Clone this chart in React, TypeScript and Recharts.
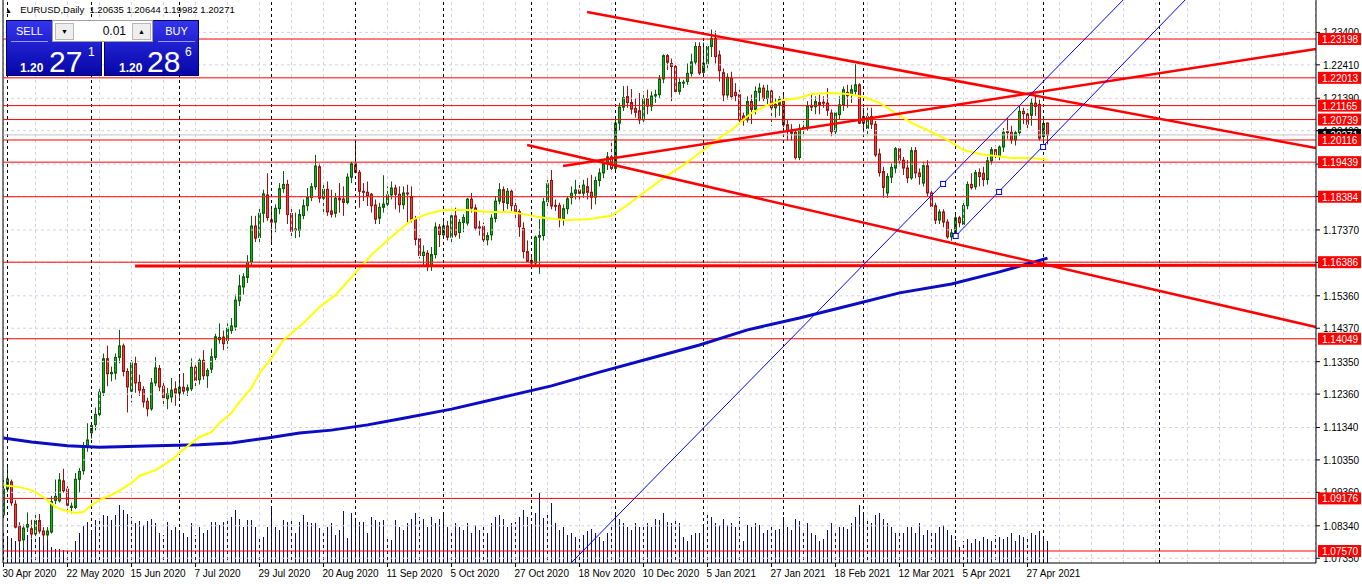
import React from "react";
import {
  ComposedChart,
  Bar,
  Line,
  XAxis,
  YAxis,
  ReferenceLine,
  ReferenceDot,
} from "recharts";

// EURUSD daily, 30 Apr 2020 .. 4 May 2021 (one bar per trading day)
const dateLabels = [
  "30 Apr 2020", "22 May 2020", "15 Jun 2020", "7 Jul 2020", "29 Jul 2020",
  "20 Aug 2020", "11 Sep 2020", "5 Oct 2020", "27 Oct 2020", "18 Nov 2020",
  "10 Dec 2020", "5 Jan 2021", "27 Jan 2021", "18 Feb 2021", "12 Mar 2021",
  "5 Apr 2021", "27 Apr 2021",
];

const opens = [
  1.0867, 1.0946, 1.0968, 1.0900, 1.0833, 1.0791, 1.0830, 1.0825, 1.0809, 1.0850,
  1.0818, 1.0806, 1.0815, 1.0911, 1.0910, 1.0971, 1.0946, 1.0890, 1.0890, 1.0976,
  1.1002, 1.1073, 1.1118, 1.1143, 1.1174, 1.1241, 1.1344, 1.1298, 1.1300, 1.1348,
  1.1383, 1.1305, 1.1245, 1.1329, 1.1272, 1.1250, 1.1214, 1.1191, 1.1270, 1.1314,
  1.1260, 1.1222, 1.1227, 1.1252, 1.1239, 1.1257, 1.1248, 1.1252, 1.1318, 1.1280,
  1.1339, 1.1292, 1.1312, 1.1348, 1.1402, 1.1410, 1.1400, 1.1430, 1.1441, 1.1521,
  1.1563, 1.1592, 1.1640, 1.1749, 1.1714, 1.1788, 1.1844, 1.1768, 1.1761, 1.1802,
  1.1863, 1.1876, 1.1787, 1.1738, 1.1736, 1.1781, 1.1811, 1.1836, 1.1869, 1.1930,
  1.1834, 1.1861, 1.1795, 1.1788, 1.1834, 1.1831, 1.1821, 1.1898, 1.1939, 1.1913,
  1.1855, 1.1852, 1.1846, 1.1813, 1.1773, 1.1806, 1.1816, 1.1844, 1.1865, 1.1846,
  1.1814, 1.1850, 1.1839, 1.1769, 1.1710, 1.1659, 1.1666, 1.1627, 1.1662, 1.1746,
  1.1722, 1.1749, 1.1715, 1.1780, 1.1729, 1.1760, 1.1758, 1.1831, 1.1804, 1.1746,
  1.1748, 1.1707, 1.1722, 1.1772, 1.1825, 1.1860, 1.1818, 1.1855, 1.1811, 1.1793,
  1.1742, 1.1671, 1.1644, 1.1636, 1.1715, 1.1720, 1.1823, 1.1888, 1.1812, 1.1812,
  1.1771, 1.1802, 1.1836, 1.1849, 1.1859, 1.1849, 1.1869, 1.1852, 1.1837, 1.1888,
  1.1911, 1.1939, 1.1960, 1.1925, 1.2063, 1.2112, 1.2144, 1.2126, 1.2108, 1.2101,
  1.2073, 1.2138, 1.2115, 1.2146, 1.2150, 1.2198, 1.2269, 1.2245, 1.2236, 1.2160,
  1.2187, 1.2190, 1.2215, 1.2250, 1.2297, 1.2218, 1.2244, 1.2297, 1.2322, 1.2271,
  1.2217, 1.2149, 1.2200, 1.2157, 1.2150, 1.2085, 1.2073, 1.2129, 1.2105, 1.2157,
  1.2170, 1.2138, 1.2161, 1.2110, 1.2120, 1.2130, 1.2058, 1.2040, 1.2035, 1.1958,
  1.2047, 1.2050, 1.2115, 1.2113, 1.2126, 1.2127, 1.2124, 1.2094, 1.2037, 1.2089,
  1.2119, 1.2157, 1.2150, 1.2160, 1.2180, 1.2083, 1.2047, 1.2083, 1.2060, 1.1969,
  1.1915, 1.1850, 1.1898, 1.1926, 1.1985, 1.1950, 1.1926, 1.1896, 1.1979, 1.1911,
  1.1880, 1.1933, 1.1850, 1.1811, 1.1767, 1.1792, 1.1761, 1.1716, 1.1728, 1.1774,
  1.1754, 1.1811, 1.1876, 1.1869, 1.1912, 1.1910, 1.1891, 1.1948, 1.1982, 1.1961,
  1.1990, 1.2037, 1.2035, 1.2012, 1.2034, 1.2099, 1.2091, 1.2087, 1.2124, 1.2120,
  1.2022, 1.20635,
];

const highs = [
  1.0974, 1.1019, 1.0975, 1.0912, 1.0845, 1.0838, 1.0875, 1.0852, 1.0868, 1.0870,
  1.0830, 1.0830, 1.0925, 1.0975, 1.0995, 1.1008, 1.0955, 1.0905, 1.0995, 1.1010,
  1.1090, 1.1147, 1.1150, 1.1195, 1.1255, 1.1360, 1.1384, 1.1320, 1.1360, 1.1432,
  1.1390, 1.1315, 1.1340, 1.1350, 1.1295, 1.1260, 1.1225, 1.1285, 1.1349, 1.1325,
  1.1270, 1.1255, 1.1285, 1.1275, 1.1290, 1.1300, 1.1265, 1.1345, 1.1330, 1.1345,
  1.1370, 1.1315, 1.1375, 1.1420, 1.1452, 1.1430, 1.1452, 1.1468, 1.1540, 1.1600,
  1.1605, 1.1660, 1.1780, 1.1780, 1.1805, 1.1860, 1.1910, 1.1808, 1.1815, 1.1880,
  1.1917, 1.1890, 1.1805, 1.1790, 1.1800, 1.1830, 1.1865, 1.1880, 1.1966, 1.1940,
  1.1880, 1.1885, 1.1860, 1.1850, 1.1880, 1.1870, 1.1910, 1.1945, 1.2011, 1.1920,
  1.1880, 1.1885, 1.1850, 1.1830, 1.1820, 1.1904, 1.1870, 1.1885, 1.1875, 1.1870,
  1.1870, 1.1875, 1.1870, 1.1780, 1.1720, 1.1690, 1.1675, 1.1685, 1.1760, 1.1755,
  1.1770, 1.1765, 1.1790, 1.1805, 1.1770, 1.1785, 1.1835, 1.1850, 1.1815, 1.1765,
  1.1760, 1.1730, 1.1785, 1.1840, 1.1880, 1.1870, 1.1865, 1.1860, 1.1830, 1.1800,
  1.1760, 1.1705, 1.1660, 1.1720, 1.1770, 1.1835, 1.1890, 1.1920, 1.1830, 1.1820,
  1.1815, 1.1840, 1.1870, 1.1890, 1.1880, 1.1890, 1.1895, 1.1905, 1.1900, 1.1925,
  1.1945, 1.1975, 1.2004, 1.2077, 1.2125, 1.2176, 1.2177, 1.2167, 1.2140, 1.2155,
  1.2160, 1.2165, 1.2160, 1.2165, 1.2210, 1.2273, 1.2274, 1.2260, 1.2250, 1.2200,
  1.2195, 1.2245, 1.2275, 1.2310, 1.2310, 1.2309, 1.2305, 1.2349, 1.2345, 1.2285,
  1.2230, 1.2215, 1.2220, 1.2185, 1.2165, 1.2095, 1.2145, 1.2150, 1.2175, 1.2185,
  1.2180, 1.2180, 1.2165, 1.2140, 1.2145, 1.2150, 1.2075, 1.2060, 1.2045, 1.2060,
  1.2070, 1.2130, 1.2150, 1.2145, 1.2150, 1.2145, 1.2170, 1.2105, 1.2095, 1.2145,
  1.2175, 1.2180, 1.2180, 1.2243, 1.2185, 1.2110, 1.2110, 1.2110, 1.2070, 1.1985,
  1.1930, 1.1910, 1.1940, 1.1990, 1.1990, 1.1960, 1.1950, 1.1990, 1.1990, 1.1925,
  1.1945, 1.1950, 1.1860, 1.1820, 1.1800, 1.1800, 1.1770, 1.1740, 1.1790, 1.1780,
  1.1820, 1.1885, 1.1910, 1.1920, 1.1925, 1.1930, 1.1960, 1.1990, 1.1995, 1.1995,
  1.2048, 1.2079, 1.2055, 1.2040, 1.2115, 1.2110, 1.2105, 1.2140, 1.2150, 1.2135,
  1.2075, 1.20644,
];

const lows = [
  1.0855, 1.0935, 1.0895, 1.0826, 1.0782, 1.0766, 1.0815, 1.0795, 1.0798, 1.0810,
  1.0774, 1.0790, 1.0810, 1.0900, 1.0905, 1.0935, 1.0870, 1.0872, 1.0885, 1.0935,
  1.0990, 1.1060, 1.1100, 1.1125, 1.1160, 1.1230, 1.1260, 1.1275, 1.1280, 1.1330,
  1.1290, 1.1180, 1.1210, 1.1240, 1.1230, 1.1195, 1.1168, 1.1185, 1.1260, 1.1245,
  1.1200, 1.1190, 1.1210, 1.1200, 1.1225, 1.1235, 1.1230, 1.1245, 1.1260, 1.1265,
  1.1280, 1.1255, 1.1300, 1.1340, 1.1390, 1.1370, 1.1375, 1.1420, 1.1430, 1.1505,
  1.1540, 1.1575, 1.1625, 1.1700, 1.1700, 1.1760, 1.1765, 1.1695, 1.1730, 1.1785,
  1.1850, 1.1755, 1.1710, 1.1712, 1.1715, 1.1770, 1.1795, 1.1825, 1.1860, 1.1820,
  1.1790, 1.1780, 1.1775, 1.1775, 1.1790, 1.1780, 1.1815, 1.1880, 1.1910, 1.1805,
  1.1825, 1.1810, 1.1790, 1.1755, 1.1755, 1.1790, 1.1800, 1.1830, 1.1800, 1.1790,
  1.1800, 1.1760, 1.1760, 1.1690, 1.1650, 1.1625, 1.1611, 1.1612, 1.1650, 1.1685,
  1.1715, 1.1705, 1.1695, 1.1715, 1.1710, 1.1730, 1.1750, 1.1790, 1.1735, 1.1720,
  1.1690, 1.1690, 1.1705, 1.1760, 1.1815, 1.1795, 1.1800, 1.1790, 1.1770, 1.1716,
  1.1650, 1.1640, 1.1622, 1.1630, 1.1603, 1.1705, 1.1810, 1.1800, 1.1795, 1.1745,
  1.1750, 1.1785, 1.1815, 1.1830, 1.1830, 1.1835, 1.1830, 1.1800, 1.1815, 1.1870,
  1.1895, 1.1920, 1.1920, 1.1920, 1.2040, 1.2100, 1.2110, 1.2090, 1.2080, 1.2060,
  1.2060, 1.2090, 1.2100, 1.2125, 1.2140, 1.2185, 1.2225, 1.2130, 1.2150, 1.2150,
  1.2170, 1.2180, 1.2205, 1.2240, 1.2210, 1.2205, 1.2225, 1.2265, 1.2245, 1.2190,
  1.2130, 1.2135, 1.2135, 1.2130, 1.2060, 1.2055, 1.2065, 1.2060, 1.2090, 1.2130,
  1.2130, 1.2120, 1.2055, 1.2080, 1.2085, 1.2050, 1.2010, 1.2010, 1.1952, 1.1950,
  1.2020, 1.2040, 1.2100, 1.2090, 1.2090, 1.2110, 1.2085, 1.2023, 1.2020, 1.2075,
  1.2100, 1.2110, 1.2125, 1.2150, 1.2060, 1.2035, 1.2030, 1.2045, 1.1960, 1.1900,
  1.1835, 1.1835, 1.1880, 1.1910, 1.1935, 1.1905, 1.1880, 1.1890, 1.1895, 1.1875,
  1.1870, 1.1840, 1.1800, 1.1755, 1.1755, 1.1745, 1.1710, 1.1704, 1.1715, 1.1745,
  1.1745, 1.1800, 1.1860, 1.1860, 1.1870, 1.1870, 1.1875, 1.1935, 1.1955, 1.1950,
  1.1975, 1.2015, 1.2000, 1.1995, 1.2025, 1.2060, 1.2045, 1.2055, 1.2085, 1.2010,
  1.2000, 1.19982,
];

const closes = [
  1.0946, 1.0977, 1.0904, 1.0830, 1.0788, 1.0827, 1.0838, 1.0809, 1.0850, 1.0818,
  1.0806, 1.0818, 1.0908, 1.0924, 1.0974, 1.0941, 1.0897, 1.0894, 1.0976, 1.1000,
  1.1073, 1.1096, 1.1140, 1.1174, 1.1242, 1.1344, 1.1298, 1.1302, 1.1348, 1.1383,
  1.1305, 1.1258, 1.1331, 1.1270, 1.1248, 1.1212, 1.1191, 1.1270, 1.1316, 1.1258,
  1.1225, 1.1237, 1.1248, 1.1239, 1.1257, 1.1245, 1.1255, 1.1318, 1.1278, 1.1339,
  1.1292, 1.1308, 1.1350, 1.1411, 1.1409, 1.1390, 1.1437, 1.1444, 1.1523, 1.1566,
  1.1594, 1.1638, 1.1749, 1.1712, 1.1788, 1.1847, 1.1775, 1.1761, 1.1803, 1.1863,
  1.1876, 1.1784, 1.1733, 1.1740, 1.1784, 1.1811, 1.1836, 1.1869, 1.1932, 1.1834,
  1.1861, 1.1792, 1.1785, 1.1834, 1.1829, 1.1821, 1.1898, 1.1939, 1.1913, 1.1855,
  1.1852, 1.1841, 1.1811, 1.1770, 1.1806, 1.1816, 1.1844, 1.1865, 1.1846, 1.1814,
  1.1850, 1.1848, 1.1769, 1.1708, 1.1659, 1.1669, 1.1627, 1.1662, 1.1746, 1.1723,
  1.1749, 1.1715, 1.1780, 1.1722, 1.1760, 1.1775, 1.1831, 1.1804, 1.1743, 1.1744,
  1.1707, 1.1720, 1.1773, 1.1825, 1.1860, 1.1821, 1.1855, 1.1811, 1.1793, 1.1747,
  1.1671, 1.1641, 1.1636, 1.1715, 1.1720, 1.1823, 1.1878, 1.1810, 1.1810, 1.1771,
  1.1802, 1.1832, 1.1849, 1.1859, 1.1849, 1.1874, 1.1852, 1.1837, 1.1888, 1.1911,
  1.1939, 1.1960, 1.1925, 1.2063, 1.2112, 1.2141, 1.2126, 1.2106, 1.2096, 1.2073,
  1.2137, 1.2115, 1.2146, 1.2150, 1.2198, 1.2269, 1.2249, 1.2236, 1.2160, 1.2187,
  1.2188, 1.2215, 1.2250, 1.2297, 1.2216, 1.2246, 1.2297, 1.2322, 1.2266, 1.2223,
  1.2149, 1.2203, 1.2144, 1.2147, 1.2073, 1.2073, 1.2129, 1.2105, 1.2160, 1.2170,
  1.2138, 1.2161, 1.2110, 1.2120, 1.2136, 1.2058, 1.2040, 1.2032, 1.1958, 1.2047,
  1.2050, 1.2115, 1.2113, 1.2129, 1.2117, 1.2125, 1.2102, 1.2037, 1.2094, 1.2119,
  1.2165, 1.2147, 1.2165, 1.2180, 1.2063, 1.2063, 1.2083, 1.2060, 1.1966, 1.1912,
  1.1867, 1.1900, 1.1928, 1.1985, 1.1950, 1.1926, 1.1896, 1.1979, 1.1911, 1.1900,
  1.1933, 1.1850, 1.1809, 1.1767, 1.1792, 1.1761, 1.1716, 1.1728, 1.1774, 1.1759,
  1.1811, 1.1876, 1.1866, 1.1912, 1.1900, 1.1891, 1.1948, 1.1982, 1.1963, 1.1990,
  1.2035, 1.2034, 1.2012, 1.2034, 1.2099, 1.2092, 1.2060, 1.2124, 1.2114, 1.2017,
  1.2062, 1.20271,
];

// tick volume, relative units
const volumes = [
  30, 26, 25, 22, 34, 28, 28, 24, 32, 26,
  20, 27, 16, 14, 14, 13, 13, 11, 22, 30,
  37, 41, 33, 43, 45, 48, 47, 43, 48, 58,
  53, 49, 46, 40, 42, 38, 42, 44, 40, 30,
  28, 41, 33, 36, 33, 30, 26, 40, 28, 36,
  30, 33, 41, 41, 38, 41, 43, 46, 53, 44,
  36, 43, 43, 36, 26, 26, 36, 54, 36, 33,
  43, 41, 43, 30, 41, 48, 41, 40, 40, 35,
  30, 36, 40, 28, 33, 52, 25, 50, 44, 41,
  41, 30, 46, 43, 41, 43, 26, 23, 43, 36,
  33, 40, 44, 50, 46, 44, 36, 46, 40, 44,
  50, 36, 33, 40, 36, 33, 40, 30, 38, 33,
  36, 30, 40, 46, 48, 44, 36, 40, 41, 46,
  53, 46, 38, 50, 70, 45, 48, 60, 40, 33,
  36, 28, 30, 26, 25, 28, 32, 34, 30, 26,
  22, 30, 36, 50, 44, 40, 36, 33, 40, 36,
  36, 40, 36, 44, 43, 50, 41, 40, 43, 40,
  26, 22, 28, 30, 30, 38, 48, 46, 40, 38,
  44, 38, 40, 36, 46, 22, 38, 36, 40, 38,
  30, 33, 36, 33, 34, 46, 36, 33, 44, 42,
  30, 40, 30, 28, 22, 24, 33, 40, 33, 36,
  36, 34, 40, 46, 58, 48, 44, 40, 48, 50,
  44, 40, 36, 30, 33, 30, 36, 36, 30, 40,
  28, 33, 33, 30, 36, 38, 33, 28, 23, 16,
  22, 24, 20, 24, 22, 26, 24, 22, 28, 26,
  24, 26, 30, 22, 28, 26, 24, 30, 28, 32,
  26, 22,
];

// moving averages: [bar, price]
const yellowMa = [
  [0, 1.0958], [4, 1.0952], [7, 1.0943], [10, 1.0922], [13, 1.0891], [15, 1.0882],
  [18, 1.0873], [20, 1.0876], [22, 1.0897], [24, 1.0913], [28, 1.0934], [32, 1.0965],
  [34, 1.0986], [38, 1.1004], [42, 1.1035], [44, 1.1056], [47, 1.1087], [49, 1.1105],
  [52, 1.1120], [54, 1.1148], [57, 1.1178], [59, 1.1212], [62, 1.1255], [64, 1.1300],
  [67, 1.1346], [70, 1.1401], [75, 1.1453], [79, 1.1502], [83, 1.1538], [87, 1.1593],
  [92, 1.1661], [97, 1.1716], [102, 1.1767], [106, 1.1786], [110, 1.1798], [116, 1.1798],
  [121, 1.1792], [127, 1.1792], [131, 1.1783], [135, 1.1774], [141, 1.1767], [146, 1.1770],
  [152, 1.1780], [156, 1.1813], [160, 1.1850], [165, 1.1896], [170, 1.1935], [175, 1.1981],
  [179, 1.2018], [182, 1.2042], [187, 1.2094], [191, 1.2118], [195, 1.2134], [199, 1.2140],
  [202, 1.2152], [207, 1.2155], [211, 1.2152], [215, 1.2143], [219, 1.2125], [223, 1.2094],
  [227, 1.2064], [232, 1.2036], [236, 1.2012], [240, 1.1981], [244, 1.1969], [248, 1.1963],
  [252, 1.1957], [257, 1.1957], [261, 1.1951],
];

const blueMa = [
  [0, 1.1102], [7, 1.1090], [16, 1.1078], [24, 1.1074], [38, 1.1078], [49, 1.1081],
  [57, 1.1087], [66, 1.1102], [74, 1.1117], [82, 1.1126], [91, 1.1142], [99, 1.1160],
  [112, 1.1190], [124, 1.1224], [137, 1.1261], [149, 1.1303], [162, 1.1346], [174, 1.1386],
  [186, 1.1432], [199, 1.1468], [212, 1.1508], [224, 1.1545], [237, 1.1572], [249, 1.1609],
  [261, 1.1651],
];

const priceTicks = [
  1.0735, 1.0834, 1.0936, 1.1035, 1.1134, 1.1236, 1.1335, 1.1437, 1.1536,
  1.1638, 1.1737, 1.1839, 1.1938, 1.204, 1.2139, 1.2241, 1.234,
];

const levels = [
  1.23198, 1.22013, 1.21165, 1.20739, 1.20116, 1.19439, 1.18384, 1.16386,
  1.14049, 1.09176, 1.0757,
];

const bid = 1.20271;

// drawn objects: [bar, price] end points
const redTrends = [
  [[145.9, 1.24023], [328.1, 1.19872]],
  [[139.9, 1.19322], [328.1, 1.22894]],
  [[130.9, 1.19963], [328.1, 1.14408]],
];
const flatTrend = [[32.9, 1.1627], [328.1, 1.1629]];
const channelLines = [
  [[141.9, 1.07204], [279.9, 1.24389]],
  [[238.05, 1.17185], [295.4, 1.24389]],
];
const channelAnchors = [
  [234.9, 1.18773], [238.05, 1.17185], [248.9, 1.18529], [259.9, 1.19902],
];

const monthStarts = [1, 22, 44, 67, 88, 110, 132, 153, 175, 195, 215, 238, 260, 289];

const X_DOMAIN: [number, number] = [-0.125, 328.125];
const Y_DOMAIN: [number, number] = [1.07204, 1.24389];
const xTicks = dateLabels.map((_, k) => k * 16);
const gridBars = Array.from({ length: 42 }, (_, k) => k * 8);
// axis ticks: plain grid prices first, then the price tags drawn over them
const axisTicks = [...priceTicks, bid, ...levels];

const rows: any[] = opens.map((o, i) => ({
  i,
  o,
  h: highs[i],
  l: lows[i],
  c: closes[i],
  range: [lows[i], highs[i]],
  vol: volumes[i],
  ma1: null,
  ma2: null,
}));
yellowMa.forEach(([i, v]) => (rows[i].ma1 = v));
blueMa.forEach(([i, v]) => (rows[i].ma2 = v));

const GRID = "#d2d2e8";
const FONT = "Liberation Sans, Arial, sans-serif";

function Candle(props: any) {
  const { x, y, width, height, payload } = props;
  if (!payload || x == null) return null;
  const { o, h, l, c } = payload;
  const top = Math.min(y, y + height);
  const hgt = Math.abs(height);
  const k = hgt / (h - l);
  const cx = Math.floor(x + width / 2) + 0.5;
  const yO = top + (h - o) * k;
  const yC = top + (h - c) * k;
  const up = c >= o;
  const edge = up ? "#0a600a" : "#9c1212";
  const fill = up ? "#1fae1f" : "#e8483e";
  const bTop = Math.min(yO, yC);
  const bH = Math.max(Math.abs(yC - yO), 1);
  return (
    <g>
      <line x1={cx} x2={cx} y1={top} y2={top + hgt} stroke={edge} strokeWidth={1} />
      <rect x={cx - 1} y={bTop} width={2} height={bH} fill={fill} stroke={edge} strokeWidth={1} />
    </g>
  );
}

function VolumeStick(props: any) {
  const { x, y, width, height } = props;
  if (x == null) return null;
  const cx = Math.floor(x + width / 2) + 0.5;
  return <line x1={cx} x2={cx} y1={y} y2={y + height} stroke="#0a0a80" strokeWidth={1} />;
}

function XTick(props: any) {
  const { x, payload } = props;
  const label = dateLabels[Math.round(payload.value / 16)];
  return (
    <g>
      <line x1={x} x2={x} y1={563} y2={567} stroke="#000" />
      <text x={x - 1} y={577} fontSize={10} fontFamily={FONT} fill="#000">
        {label}
      </text>
    </g>
  );
}

function YTick(props: any) {
  const { y, payload, index } = props;
  const v = payload.value;
  if (index >= priceTicks.length) {
    const bg = v === bid ? "#000" : "#ff0000";
    return (
      <g>
        <rect x={1318} y={y - 6} width={43} height={12} fill={bg} />
        <text x={1322} y={y + 4} fill="#fff" fontSize={10} fontFamily={FONT}>
          {v.toFixed(5)}
        </text>
      </g>
    );
  }
  return (
    <g>
      <line x1={1316} x2={1320} y1={y} y2={y} stroke="#000" />
      <text x={1323} y={y + 4} fontSize={10} fontFamily={FONT} fill="#000">
        {v.toFixed(5)}
      </text>
    </g>
  );
}

const blueGrad = "linear-gradient(#3434ee, #0606a6)";

function TradePanel() {
  const box: React.CSSProperties = {
    position: "absolute",
    background: blueGrad,
    border: "1px solid #00006a",
    boxSizing: "border-box",
    color: "#fff",
    fontFamily: FONT,
  };
  const big: React.CSSProperties = { position: "absolute", fontSize: 30, lineHeight: "30px", top: 4 };
  const small: React.CSSProperties = { position: "absolute", fontSize: 12, fontWeight: "bold", top: 18 };
  const sup: React.CSSProperties = { position: "absolute", fontSize: 12, top: 2 };
  const btn: React.CSSProperties = {
    position: "absolute",
    top: 2,
    width: 19,
    height: 17,
    background: "#eeeeee",
    border: "1px solid #b8b8b8",
    boxSizing: "border-box",
    fontSize: 7,
    lineHeight: "15px",
    textAlign: "center",
    color: "#000",
  };
  return (
    <>
      <div style={{ ...box, left: 6, top: 20, width: 96, height: 56 }}>
        <div style={{ position: "absolute", left: 0, width: 45, top: 4, textAlign: "center", fontSize: 11 }}>SELL</div>
        <div style={{ position: "absolute", left: 4, width: 37, top: 20, height: 1, background: "#9a9af6" }} />
        <div style={{ position: "absolute", left: 0, top: 22, width: 94, height: 33 }}>
          <span style={{ ...small, left: 13 }}>1.20</span>
          <span style={{ ...big, left: 42 }}>27</span>
          <span style={{ ...sup, left: 81 }}>1</span>
        </div>
      </div>
      <div style={{ ...box, left: 104, top: 20, width: 95, height: 56 }}>
        <div style={{ position: "absolute", left: 49, width: 45, top: 4, textAlign: "center", fontSize: 11 }}>BUY</div>
        <div style={{ position: "absolute", left: 53, width: 37, top: 20, height: 1, background: "#9a9af6" }} />
        <div style={{ position: "absolute", left: 0, top: 22, width: 94, height: 33 }}>
          <span style={{ ...small, left: 14 }}>1.20</span>
          <span style={{ ...big, left: 42 }}>28</span>
          <span style={{ ...sup, left: 80 }}>6</span>
        </div>
      </div>
      <div
        style={{
          position: "absolute",
          left: 52,
          top: 20,
          width: 101,
          height: 22,
          background: "#fff",
          border: "1px solid #a0a0a0",
          boxSizing: "border-box",
          fontFamily: FONT,
        }}
      >
        <div style={{ ...btn, left: 2 }}>▼</div>
        <div style={{ position: "absolute", right: 26, top: 3, fontSize: 12, color: "#000" }}>0.01</div>
        <div style={{ ...btn, left: 79 }}>▲</div>
      </div>
    </>
  );
}

export default function App() {
  return (
    <div
      style={{
        position: "absolute",
        left: 0,
        top: 0,
        width: 1362,
        height: 584,
        background: "#fff",
        overflow: "hidden",
      }}
    >
      <ComposedChart
        width={1362}
        height={584}
        data={rows}
        margin={{ top: 0, right: 0, bottom: 0, left: 3 }}
        style={{ fontFamily: FONT }}
      >
        <XAxis
          dataKey="i"
          type="number"
          domain={X_DOMAIN}
          allowDataOverflow
          ticks={xTicks}
          interval={0}
          tick={<XTick />}
          tickLine={false}
          axisLine={{ stroke: "#000" }}
          height={21}
        />
        <XAxis xAxisId="vx" dataKey="i" type="number" domain={X_DOMAIN} allowDataOverflow hide />
        <YAxis
          yAxisId="p"
          orientation="right"
          type="number"
          domain={Y_DOMAIN}
          allowDataOverflow
          ticks={axisTicks}
          interval={0}
          tick={<YTick />}
          tickLine={false}
          axisLine={{ stroke: "#000" }}
          width={46}
        />
        <YAxis yAxisId="v" type="number" domain={[0, 563]} hide />

        {gridBars.map((g) => (
          <ReferenceLine key={"vg" + g} x={g} yAxisId="p" stroke={GRID} strokeDasharray="3 3" />
        ))}
        {priceTicks.map((t) => (
          <ReferenceLine key={"hg" + t} y={t} yAxisId="p" stroke={GRID} strokeDasharray="3 3" />
        ))}
        {monthStarts.map((m) => (
          <ReferenceLine key={"ms" + m} x={m} yAxisId="p" stroke="#000" strokeDasharray="3 3" />
        ))}
        <ReferenceLine x={-0.125} yAxisId="p" stroke="#000" />

        <Bar
          xAxisId="vx"
          yAxisId="v"
          dataKey="vol"
          barSize={1}
          shape={<VolumeStick />}
          isAnimationActive={false}
        />
        <Bar yAxisId="p" dataKey="range" barSize={3} shape={<Candle />} isAnimationActive={false} />

        <ReferenceLine y={bid} yAxisId="p" stroke="#c4c4c4" />
        {levels.map((lv) => (
          <ReferenceLine key={"lv" + lv} y={lv} yAxisId="p" stroke="#ff0000" />
        ))}

        <Line
          yAxisId="p"
          dataKey="ma2"
          type="linear"
          connectNulls
          dot={false}
          stroke="#0c0cc4"
          strokeWidth={3}
          isAnimationActive={false}
        />
        <Line
          yAxisId="p"
          dataKey="ma1"
          type="linear"
          connectNulls
          dot={false}
          stroke="#ffff00"
          strokeWidth={2}
          isAnimationActive={false}
        />

        <ReferenceLine
          yAxisId="p"
          segment={[
            { x: flatTrend[0][0], y: flatTrend[0][1] },
            { x: flatTrend[1][0], y: flatTrend[1][1] },
          ]}
          stroke="#ff0000"
          strokeWidth={3}
          ifOverflow="visible"
        />
        {redTrends.map((s, k) => (
          <ReferenceLine
            key={"rt" + k}
            yAxisId="p"
            segment={[
              { x: s[0][0], y: s[0][1] },
              { x: s[1][0], y: s[1][1] },
            ]}
            stroke="#ff0000"
            strokeWidth={2.5}
            ifOverflow="visible"
          />
        ))}
        {channelLines.map((s, k) => (
          <ReferenceLine
            key={"ch" + k}
            yAxisId="p"
            segment={[
              { x: s[0][0], y: s[0][1] },
              { x: s[1][0], y: s[1][1] },
            ]}
            stroke="#0000ff"
            strokeWidth={1}
            ifOverflow="visible"
          />
        ))}
        {channelAnchors.map((a, k) => (
          <ReferenceDot
            key={"an" + k}
            yAxisId="p"
            x={a[0]}
            y={a[1]}
            r={3}
            ifOverflow="visible"
            shape={(p: any) => (
              <rect x={p.cx - 2.5} y={p.cy - 2.5} width={5} height={5} fill="#fff" stroke="#0000ff" />
            )}
          />
        ))}
      </ComposedChart>

      <div
        style={{
          position: "absolute",
          left: 5,
          top: 4,
          fontFamily: FONT,
          fontSize: 9.5,
          color: "#000",
          whiteSpace: "pre",
        }}
      >
        <span style={{ display: "inline-block", width: 10, fontSize: 7 }}>▲</span>
        {"  EURUSD,Daily  1.20635 1.20644 1.19982 1.20271"}
      </div>
      <TradePanel />
    </div>
  );
}
